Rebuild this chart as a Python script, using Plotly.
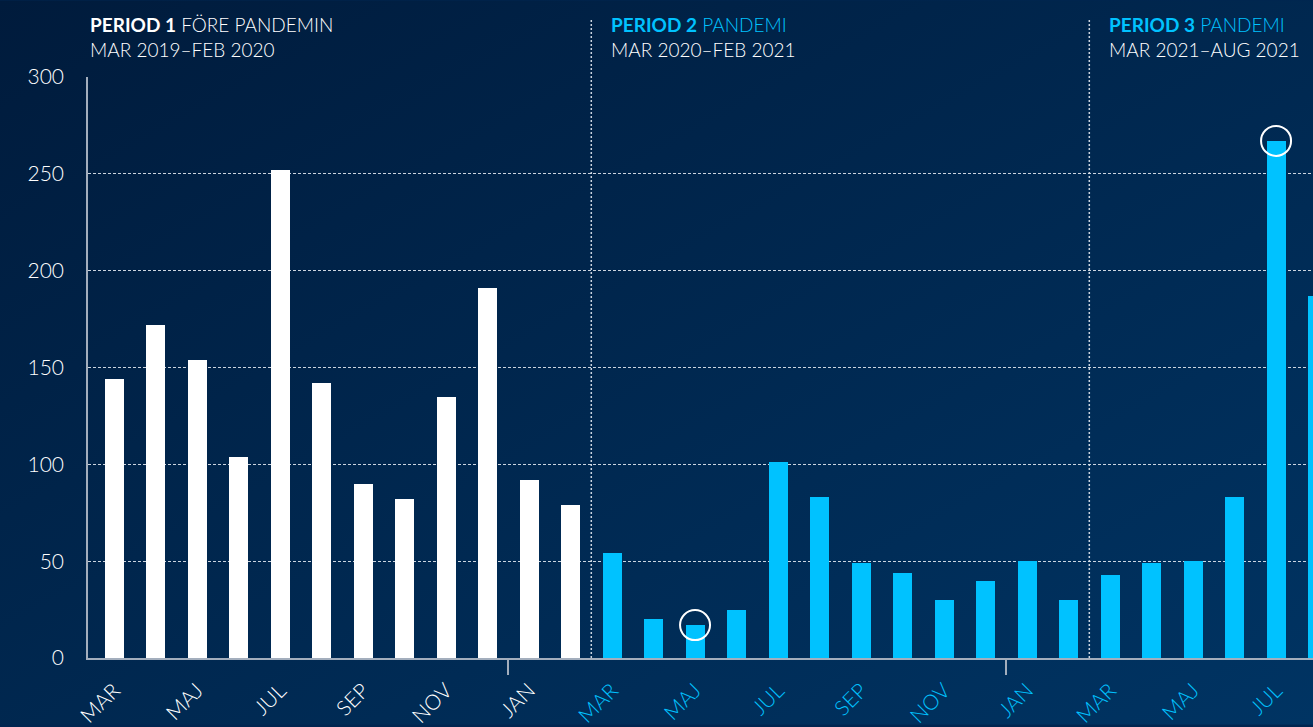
import base64

import plotly.graph_objects as go

# månader (svenska), mar 2019 – aug 2021
month_names = ["MAR", "APR", "MAJ", "JUN", "JUL", "AUG", "SEP", "OKT", "NOV", "DEC", "JAN", "FEB"]
period1_values = [144, 172, 154, 104, 252, 142, 90, 82, 135, 191, 92, 79]
period2_values = [54, 20, 17, 25, 101, 83, 49, 44, 30, 40, 50, 30]
period3_values = [43, 49, 50, 83, 267, 187]
highlight_idx = [14, 28]  # maj 2020, jul 2021

WHITE = "#ffffff"
CYAN = "#00c2ff"
GRID = "rgba(225,232,240,0.9)"
AXIS = "#a3aebd"
FONT = "Lato"

values = period1_values + period2_values + period3_values
x_idx = list(range(len(values)))
labels = (month_names * 3)[: len(values)]
colors = [WHITE] * len(period1_values) + [CYAN] * (len(period2_values) + len(period3_values))

tickvals = [i for i in x_idx if i % 2 == 0]
ticktext = [
    f'<span style="color:{colors[i]}">{labels[i]}</span>' for i in tickvals
]

fig = go.Figure()
fig.add_trace(
    go.Bar(
        x=x_idx,
        y=values,
        width=0.458,
        marker=dict(color=colors, line=dict(width=0)),
        hoverinfo="skip",
    )
)
fig.add_trace(
    go.Scatter(
        x=highlight_idx,
        y=[values[i] for i in highlight_idx],
        mode="markers",
        marker=dict(symbol="circle-open", size=30, color=WHITE, line=dict(width=2, color=WHITE)),
        hoverinfo="skip",
        cliponaxis=False,
    )
)

# periodgränser
for b in [11.5, 23.5]:
    fig.add_shape(
        type="line", xref="x", yref="paper", x0=b, x1=b, y0=0, y1=1.101,
        line=dict(color=GRID, width=1.5, dash="2px,2px"), layer="above",
    )

head_y = 1 + 66 / 583
fig.add_annotation(
    xref="paper", yref="paper", x=0, y=head_y, xanchor="left", yanchor="top", align="left",
    showarrow=False, font=dict(family=FONT, size=19, color=WHITE, weight=300),
    text="<b>PERIOD 1</b> FÖRE PANDEMIN<br>MAR 2019–FEB 2020",
)
for b, t1, t2 in [(11.5, "PERIOD 2", "MAR 2020–FEB 2021"), (23.5, "PERIOD 3", "MAR 2021–AUG 2021")]:
    fig.add_annotation(
        xref="x", yref="paper", x=b, y=head_y, xanchor="left", yanchor="top", align="left",
        xshift=18, showarrow=False, font=dict(family=FONT, size=19, color=WHITE, weight=300),
        text=f'<span style="color:{CYAN}"><b>{t1}</b> PANDEMI</span><br>{t2}',
    )

# bakgrund med svag gradient
svg = (
    '<svg xmlns="http://www.w3.org/2000/svg" width="200" height="200" preserveAspectRatio="none">'
    '<defs><linearGradient id="g" x1="0" y1="0" x2="1" y2="1">'
    '<stop offset="0" stop-color="#001b3c"/><stop offset="1" stop-color="#003463"/>'
    '</linearGradient></defs><rect width="200" height="200" fill="url(#g)"/></svg>'
)
bg_src = "data:image/svg+xml;base64," + base64.b64encode(svg.encode()).decode()
fig.add_layout_image(
    source=bg_src, xref="paper", yref="paper",
    x=-88 / 1225, y=1 + 77 / 583, sizex=1313 / 1225, sizey=727 / 583,
    sizing="stretch", layer="below", xanchor="left", yanchor="top",
)

fig.update_layout(
    width=1313,
    height=727,
    margin=dict(l=88, r=0, t=77, b=67),
    paper_bgcolor="#002550",
    plot_bgcolor="rgba(0,0,0,0)",
    showlegend=False,
    bargap=0,
    font=dict(family=FONT, size=19, color=WHITE, weight=300),
)
fig.update_xaxes(
    range=[-0.627, 28.89],
    tickmode="array",
    tickvals=tickvals,
    ticktext=ticktext,
    tickangle=-45,
    tickfont=dict(family=FONT, size=21, weight=300),
    ticklabelstandoff=10,
    ticks="",
    showgrid=False,
    zeroline=False,
    showline=True,
    linecolor=AXIS,
    linewidth=2,
    minor=dict(tickmode="array", tickvals=[9.5, 21.5], ticks="outside", ticklen=15, tickwidth=1.5, tickcolor=AXIS, showgrid=False),
)
fig.update_yaxes(
    range=[0, 300],
    tickvals=[0, 50, 100, 150, 200, 250, 300],
    tickfont=dict(family=FONT, size=21, weight=300),
    ticks="",
    ticklabelstandoff=18,
    showgrid=True,
    gridcolor=GRID,
    gridwidth=1.2,
    griddash="3px,2px",
    zeroline=False,
    showline=True,
    linecolor=AXIS,
    linewidth=1.5,
)

fig.write_html(
    "out.html",
    config={"displayModeBar": False},
    post_script="document.body.style.margin='0';",
)
